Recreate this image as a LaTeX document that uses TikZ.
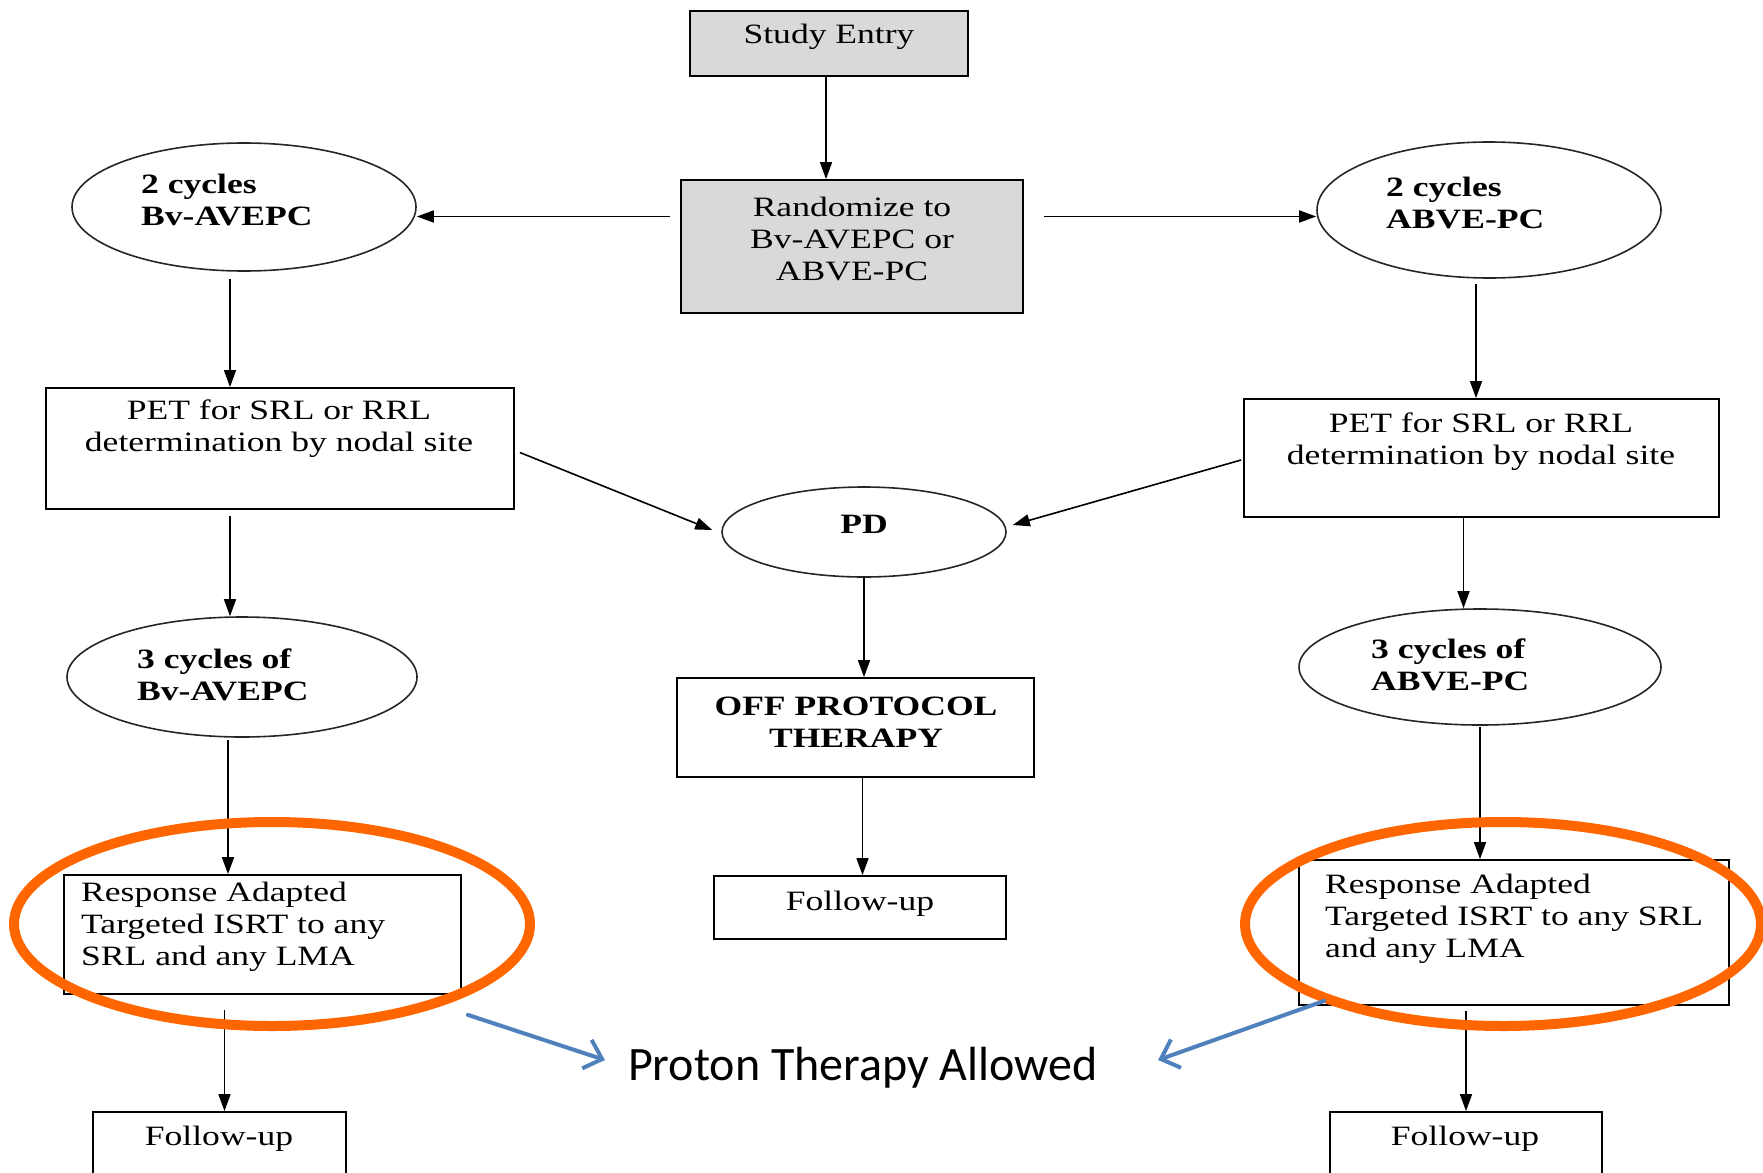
\documentclass[tikz,border=0pt]{standalone}
\usepackage{fontspec}
\setmainfont{Liberation Serif}[FakeStretch=1.27]
\newfontfamily\calibri{Carlito}
\usetikzlibrary{shapes.geometric,arrows.meta}
\definecolor{boxgray}{HTML}{D9D9D9}
\definecolor{hlorange}{HTML}{FF6600}
\definecolor{ptblue}{HTML}{4F81BD}
\begin{document}
\begin{tikzpicture}[x=1pt,y=-1pt,
  box/.style={draw=black,line width=1.8pt,inner sep=0pt},
  ell/.style={ellipse,draw=black!85,line width=1.6pt,inner sep=0pt},
  txt/.style={font=\fontsize{28}{32}\selectfont,align=center,inner sep=0pt},
  btxt/.style={font=\fontsize{28}{32}\selectfont\bfseries,align=left,inner sep=0pt},
  ltxt/.style={font=\fontsize{28}{32}\selectfont,align=left,inner sep=0pt,anchor=west},
  arr/.style={line width=1.6pt,-{Triangle[length=17pt,width=12pt]}},
  hl/.style={ellipse,draw=hlorange,line width=10pt,minimum width=516pt,minimum height=204pt,inner sep=0pt},
  barr/.style={draw=ptblue,line width=4pt,line cap=round,-{Straight Barb[length=16pt,width=30pt]}},
]
\useasboundingbox (0,0) rectangle (1763,1172);
\fill[white] (0,0) rectangle (1763,1172);

% boxes and ellipses
\node[box,fill=boxgray,minimum width=278pt,minimum height=65pt] (se) at (829,43.5) {};
\node[box,fill=boxgray,minimum width=342pt,minimum height=133pt] (rand) at (852,246.5) {};
\node[ell,minimum width=344pt,minimum height=128pt] (e1) at (244,207) {};
\node[ell,minimum width=344pt,minimum height=136pt] (e2) at (1489,210) {};
\node[box,minimum width=468pt,minimum height=121pt] (pet1) at (280,448.5) {};
\node[box,minimum width=475pt,minimum height=118pt] (pet2) at (1481.5,458) {};
\node[ell,minimum width=284pt,minimum height=90pt] (pd) at (864,532) {};
\node[ell,minimum width=350pt,minimum height=120pt] (e3) at (242,677) {};
\node[ell,minimum width=362pt,minimum height=116pt] (e4) at (1480,667) {};
\node[box,minimum width=357pt,minimum height=99pt] (off) at (855.5,727.5) {};
\node[box,minimum width=292pt,minimum height=63pt] (fu) at (860,907.5) {};
\node[box,minimum width=397pt,minimum height=119pt] (r1) at (262.5,934.5) {};
\node[box,minimum width=430pt,minimum height=145pt] (r2) at (1514,932.5) {};
\node[box,minimum width=253pt,minimum height=68pt] (fu1) at (219.5,1146) {};
\node[box,minimum width=272pt,minimum height=68pt] (fu2) at (1466,1146) {};

% texts
\node[txt] (setxt) at (829,37) {Study Entry};
\node[txt] (randtxt) at (852,239) {Randomize to\\Bv-AVEPC or\\ABVE-PC};
\node[btxt,anchor=west] (e1txt) at (141,200) {2 cycles\\Bv-AVEPC};
\node[btxt,anchor=west] (e2txt) at (1386,203) {2 cycles\\ABVE-PC};
\node[txt] (pet1txt) at (279,429) {PET for SRL or RRL\\determination by nodal site};
\node[txt] (pet2txt) at (1481,442) {PET for SRL or RRL\\determination by nodal site};
\node[btxt] (pdtxt) at (864,524) {PD};
\node[btxt,anchor=west] (e3txt) at (137,675) {3 cycles of\\Bv-AVEPC};
\node[btxt,anchor=west] (e4txt) at (1371,665) {3 cycles of\\ABVE-PC};
\node[btxt,align=center] (offtxt) at (856,722) {OFF PROTOCOL\\THERAPY};
\node[txt] (futxt) at (860,904) {Follow-up};
\node[ltxt] (r1txt) at (81,927) {Response Adapted\\Targeted ISRT to any\\SRL and any LMA};
\node[ltxt] (r2txt) at (1325,919) {Response Adapted\\Targeted ISRT to any SRL\\and any LMA};
\node[txt] (fu1txt) at (219,1139) {Follow-up};
\node[txt] (fu2txt) at (1465,1139) {Follow-up};

% connectors
\draw[arr] ([xshift=-3pt]se.south) -- ([xshift=-3pt]se.south |- rand.north);
\draw[arr] ([xshift=-10pt,yshift=30pt]rand.west) -- ([yshift=30pt]rand.west -| e1.east);
\draw[arr] ([xshift=20pt,yshift=30pt]rand.east) -- ([yshift=30pt]rand.east -| e2.west);
\draw[arr] ([xshift=-14pt,yshift=-7pt]e1.south) -- ([xshift=-14pt]e1.south |- pet1.north);
\draw[arr] ([xshift=-13pt,yshift=-5pt]e2.south) -- ([xshift=-13pt]e2.south |- pet2.north);
\draw[arr] ([xshift=5pt,yshift=-4pt]pet1.east) -- ([xshift=-9pt,yshift=2pt]pd.west);
\draw[arr] ([xshift=-2pt,yshift=-2pt]pet2.west) -- ([xshift=6pt,yshift=7pt]pd.east);
\draw[arr] ([xshift=-50pt,yshift=-6pt]pet1.south) -- ([xshift=-50pt]pet1.south |- e3.north);
\draw[arr] ([xshift=-18pt]pet2.south) -- ([xshift=-18pt]pet2.south |- e4.north);
\draw[arr] (pd.south) -- (pd.south |- off.north);
\draw[arr] ([xshift=7pt]off.south) -- ([xshift=7pt]off.south |- fu.north);
\draw[arr] ([xshift=-14pt,yshift=-2pt]e3.south) -- ([xshift=-14pt]e3.south |- r1.north);
\draw[arr] ([yshift=-1pt]e4.south) -- (e4.south |- r2.north);
\draw[arr] ([xshift=-38pt,yshift=-15pt]r1.south) -- ([xshift=-38pt]r1.south |- fu1.north);
\draw[arr] ([xshift=-48pt,yshift=-5pt]r2.south) -- ([xshift=-48pt]r2.south |- fu2.north);

% highlights
\node[hl] (o1) at (272,924) {};
\node[hl] (o2) at (1503,924) {};
\node[font=\calibri\fontsize{48}{56}\selectfont,inner sep=0pt] (pt) at (863,1068) {Proton Therapy Allowed};
\draw[barr] ([xshift=6pt,yshift=-20pt]r1.south east) -- ([xshift=-23pt,yshift=8pt]pt.west);
\draw[barr] ([xshift=26pt,yshift=5pt]r2.south west) -- ([xshift=60pt,yshift=8pt]pt.east);
\end{tikzpicture}
\end{document}
